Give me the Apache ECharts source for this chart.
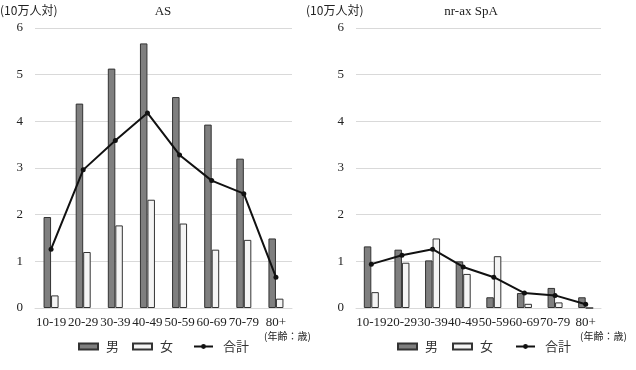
<!DOCTYPE html>
<html>
<head>
<meta charset="utf-8">
<script src="https://cdn.jsdelivr.net/npm/echarts@6/dist/echarts.min.js"></script>
<style>
  html, body { margin: 0; padding: 0; background: #fff; }
  #chart { width: 636px; height: 370px; }
</style>
</head>
<body>
<div id="chart"></div>
<script>
const ageGroups = ['10-19', '20-29', '30-39', '40-49', '50-59', '60-69', '70-79', '80+'];
const yTicks = [0, 1, 2, 3, 4, 5, 6];

// AS
const asMale = [1.95, 4.38, 5.13, 5.67, 4.52, 3.93, 3.2, 1.49];
const asFemale = [0.27, 1.2, 1.77, 2.32, 1.81, 1.25, 1.46, 0.2];
const asTotal = [1.26, 2.96, 3.59, 4.18, 3.28, 2.73, 2.45, 0.66];

// nr-ax SpA
const nrMale = [1.32, 1.25, 1.02, 1.0, 0.23, 0.32, 0.43, 0.23];
const nrFemale = [0.34, 0.97, 1.49, 0.73, 1.11, 0.09, 0.12, 0];
const nrTotal = [0.94, 1.13, 1.26, 0.88, 0.66, 0.32, 0.27, 0.08];

const serif = '"Liberation Serif", "Times New Roman", serif';
const cjk = '"Noto Sans CJK JP", sans-serif';

const chart = echarts.init(document.getElementById('chart'));

const grids = [
  { left: 35, top: 28, width: 257, height: 280 },
  { left: 356, top: 28, width: 245, height: 280 }
];

function xAxis(idx) {
  return {
    type: 'category', gridIndex: idx, data: ageGroups,
    axisLine: { lineStyle: { color: '#d9d9d9' } },
    axisTick: { show: false },
    axisLabel: { interval: 0, color: '#222', fontFamily: serif, fontSize: 13, margin: 8 }
  };
}
function yAxis(idx) {
  return {
    type: 'value', gridIndex: idx, min: yTicks[0], max: yTicks[yTicks.length - 1], interval: 1,
    axisLine: { show: false }, axisTick: { show: false },
    axisLabel: { color: '#222', fontFamily: serif, fontSize: 13, margin: 12 },
    splitLine: { lineStyle: { color: '#d9d9d9' } }
  };
}
function barSeries(name, data, idx, color) {
  return {
    name, type: 'bar', xAxisIndex: idx, yAxisIndex: idx, data,
    barWidth: 7.5, barGap: '0%',
    itemStyle: { color, borderColor: '#333', borderWidth: 1 }
  };
}
function lineSeries(data, idx) {
  return {
    name: '合計', type: 'line', xAxisIndex: idx, yAxisIndex: idx, data,
    symbol: 'circle', symbolSize: 5,
    lineStyle: { color: '#111', width: 2 },
    itemStyle: { color: '#111' }
  };
}
// one legend per item so the spacing follows the picture
function legendItem(name, left, icon) {
  return {
    left, top: 340, itemWidth: 19, itemHeight: 6, padding: 0,
    textStyle: { fontFamily: cjk, fontSize: 13, color: '#333', padding: [0, 0, 0, icon === 'rect' ? 3 : 5] },
    data: [icon ? { name, icon } : name]
  };
}

chart.setOption({
  animation: false,
  title: [
    { text: 'AS', left: 158, top: 0, textAlign: 'center', textStyle: { fontFamily: serif, fontWeight: 'normal', fontSize: 13, color: '#222' } },
    { text: 'nr-ax SpA', left: 466, top: 0, textAlign: 'center', textStyle: { fontFamily: serif, fontWeight: 'normal', fontSize: 13, color: '#222' } }
  ],
  grid: grids,
  xAxis: [xAxis(0), xAxis(1)],
  yAxis: [yAxis(0), yAxis(1)],
  legend: [
    legendItem('男', 78, 'rect'), legendItem('女', 132, 'rect'), legendItem('合計', 193),
    legendItem('男', 397, 'rect'), legendItem('女', 452, 'rect'), legendItem('合計', 515)
  ],
  graphic: [
    { type: 'text', left: 0, top: 4, style: { text: '(10万人対)', font: '12px ' + cjk, fill: '#222' } },
    { type: 'text', left: 306, top: 4, style: { text: '(10万人対)', font: '12px ' + cjk, fill: '#222' } },
    { type: 'text', left: 264, top: 331, style: { text: '(年齢：歳)', font: '10px ' + cjk, fill: '#222' } },
    { type: 'text', left: 580, top: 331, style: { text: '(年齢：歳)', font: '10px ' + cjk, fill: '#222' } }
  ],
  series: [
    barSeries('男', asMale, 0, '#7f7f7f'),
    barSeries('女', asFemale, 0, '#f4f4f4'),
    lineSeries(asTotal, 0),
    barSeries('男', nrMale, 1, '#7f7f7f'),
    barSeries('女', nrFemale, 1, '#f4f4f4'),
    lineSeries(nrTotal, 1)
  ]
});
</script>
</body>
</html>
